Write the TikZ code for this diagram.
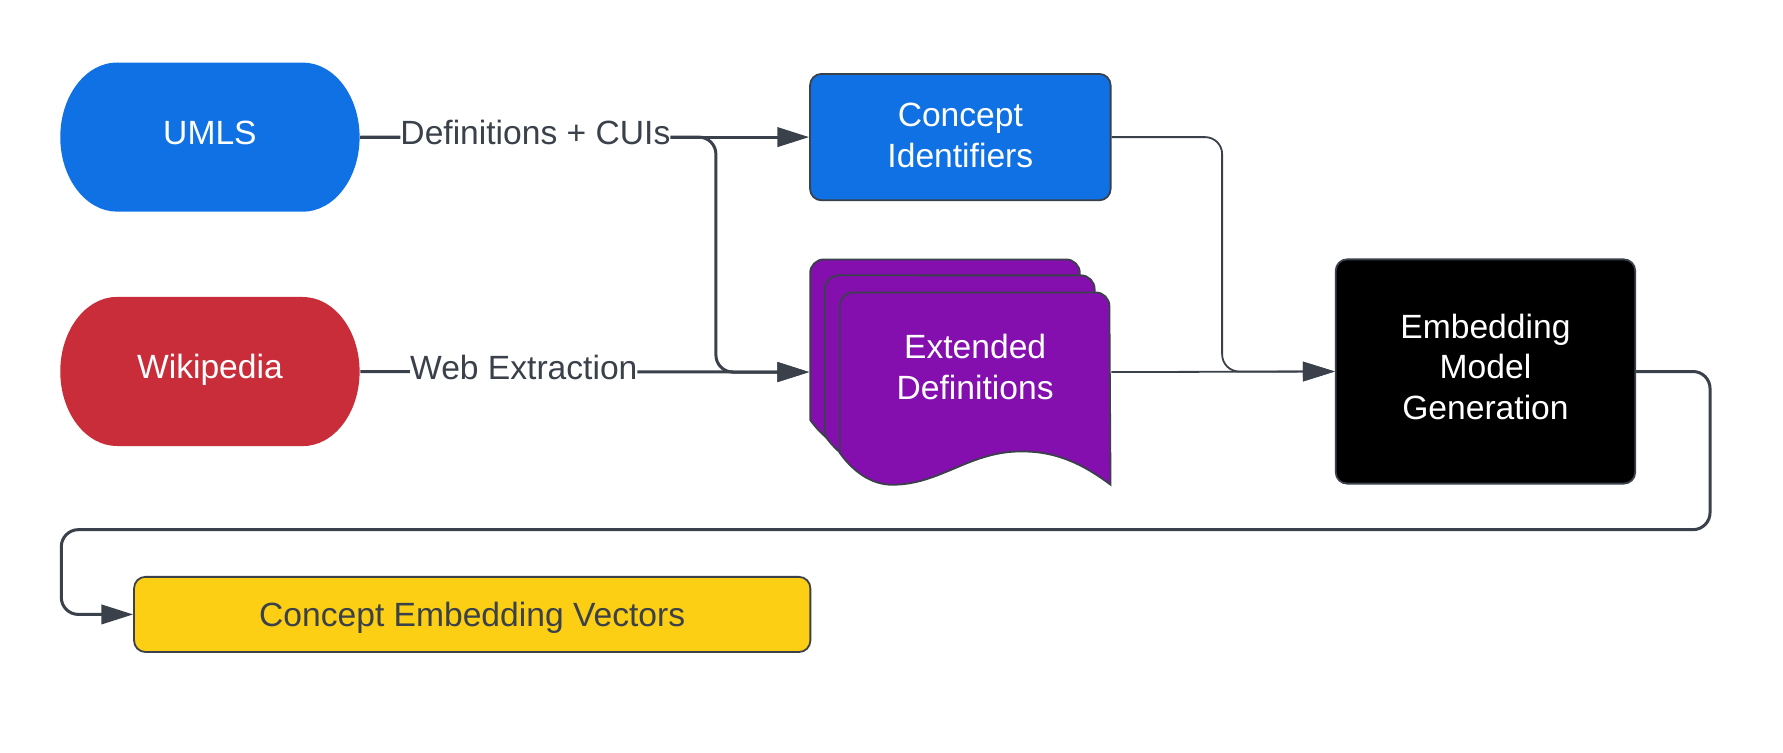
\documentclass[tikz,border=0pt]{standalone}
\usepackage{fontspec}
\setmainfont{Liberation Sans}
\usetikzlibrary{arrows.meta}
\definecolor{umlsblue}{HTML}{1071E5}
\definecolor{wikired}{HTML}{C92D39}
\definecolor{docpurple}{HTML}{850EAF}
\definecolor{vecyellow}{HTML}{FCCE14}
\definecolor{edge}{HTML}{3A414A}
\begin{document}
\begin{tikzpicture}[x=0.01cm, y=-0.01cm]
            \tikzstyle{txt}=[font=\fontsize{8.4}{10.2}\selectfont, align=center, text depth=0.24em]
            \tikzstyle{src}=[txt, text=white, minimum width=2.63cm, minimum height=1.31cm]
            \tikzstyle{box}=[txt, draw=edge, line width=0.45pt, rounded corners=0.1cm]
            \tikzstyle{doc}=[draw=edge, fill=docpurple, line width=0.45pt]
            \tikzstyle{flow}=[draw=edge, line width=0.75pt, -{Triangle[length=2.8mm, width=1.7mm]}, rounded corners=0.15cm]
            \tikzstyle{thin}=[flow, line width=0.45pt]
            \tikzstyle{lbl}=[txt, text=edge, fill=white, inner xsep=0pt]
            \useasboundingbox (0, 0) rectangle (1567, 661);
            % sources
            \fill [umlsblue] (103, 55) -- (266, 55) arc [start angle=90, end angle=-90, x radius=0.5cm, y radius=0.655cm] -- (103, 186) arc [start angle=270, end angle=90, x radius=0.5cm, y radius=0.655cm] -- cycle;
            \fill [wikired] (103, 261) -- (266, 261) arc [start angle=90, end angle=-90, x radius=0.5cm, y radius=0.655cm] -- (103, 392) arc [start angle=270, end angle=90, x radius=0.5cm, y radius=0.655cm] -- cycle;
            \node [src] (umls) at (184.5, 120.5) {UMLS};
            \node [src] (wiki) at (184.5, 326.5) {Wikipedia};
            % stacked documents
            \foreach \dx/\dy in {0/0, 13/14, 26/29}
                \draw [doc] (712+\dx, 228+\dy+141) -- (712+\dx, 228+\dy+12) arc [start angle=180, end angle=90, radius=0.12cm] -- (712+\dx+225, 228+\dy) arc [start angle=90, end angle=0, radius=0.12cm] -- (712+\dx+238, 228+\dy+169) .. controls (712+\dx+210, 228+\dy+148) and (712+\dx+185, 228+\dy+138) .. (712+\dx+152, 228+\dy+140) .. controls (712+\dx+110, 228+\dy+143) and (712+\dx+85, 228+\dy+170) .. (712+\dx+44, 228+\dy+169) .. controls (712+\dx+25, 228+\dy+168) and (712+\dx+10, 228+\dy+155) .. cycle;
            \node [minimum width=2.64cm, minimum height=1.98cm, inner sep=0pt] (ext) at (844, 327) {};
            \node [txt, text=white] (extlabel) at (857, 326.5) {Extended\\Definitions};
            % boxes
            \node [box, fill=umlsblue, text=white, text depth=0.1em, minimum width=2.64cm, minimum height=1.11cm] (cid) at (844, 120.5) {Concept\\Identifiers};
            \node [box, fill=black, text=white, minimum width=2.63cm, minimum height=1.97cm] (emb) at (1305.5, 326.5) {Embedding\\Model\\Generation};
            \node [box, fill=vecyellow, text=edge, text depth=0pt, minimum width=5.94cm, minimum height=0.66cm] (vec) at (415, 540) {Concept Embedding Vectors};
            % connectors
            \draw [flow] (umls.east) -| ([xshift=-0.82cm]ext.west) -- (ext.west);
            \draw [flow] (umls) -- node [lbl, pos=0.39] {Definitions + CUIs} (cid);
            \draw [flow] (wiki) -- node [lbl, pos=0.364] {Web Extraction} (ext.west);
            \draw [thin] (cid.east) -| ([xshift=-0.99cm]emb.west) -- (emb.west);
            \draw [thin] (ext.east) -- (emb.west);
            \draw [flow] (emb.east) -- ++(65, 0) |- ++(-1449, 139) |- (vec.west);
        \end{tikzpicture}
\end{document}
